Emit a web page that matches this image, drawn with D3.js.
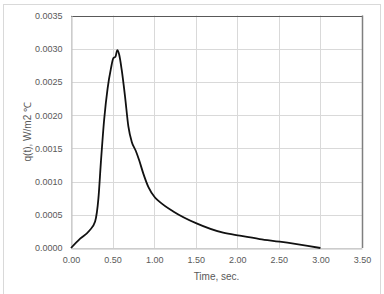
<!DOCTYPE html>
<html>
<head>
<meta charset="utf-8">
<script src="https://cdn.jsdelivr.net/npm/d3@7"></script>
<style>
  body { margin: 0; background: #fff; }
  text { font-family: "Liberation Sans", Arial, sans-serif; fill: #595959; }
</style>
</head>
<body>
<div id="chart"></div>
<script>
// values
var times = [0, 0.11, 0.22, 0.29, 0.33, 0.36, 0.40, 0.44, 0.48, 0.51, 0.535, 0.557, 0.58, 0.61,
             0.65, 0.69, 0.73, 0.78, 0.82, 0.87, 0.93, 1.01, 1.07, 1.23, 1.51, 1.83, 2.03, 2.27, 2.51, 3.0];
var flux = [0, 0.00014, 0.00026, 0.00040, 0.00075, 0.00130, 0.00195, 0.00240, 0.00270, 0.00286, 0.00288, 0.00298, 0.00291, 0.00268,
            0.00228, 0.00183, 0.00160, 0.00146, 0.00132, 0.00112, 0.00092, 0.00076, 0.00069, 0.00055, 0.00037, 0.00023, 0.000185, 0.000135, 0.000095, 0];
var xTicks = [0, 0.5, 1, 1.5, 2, 2.5, 3, 3.5];
var yTicks = [0, 0.0005, 0.001, 0.0015, 0.002, 0.0025, 0.003, 0.0035];

var W = 384, H = 294;
var plotLeft = 71, plotRight = 362, plotTop = 15.5, plotBottom = 248;

var svg = d3.select('#chart').append('svg')
    .attr('width', W)
    .attr('height', H);

// outer chart frame
svg.append('rect')
    .attr('x', 3.5).attr('y', 4.5)
    .attr('width', 377).attr('height', 300)
    .attr('fill', 'none')
    .attr('stroke', '#d9d9d9');

var x = d3.scaleLinear().domain([0, 3.5]).range([plotLeft, plotRight]);
var y = d3.scaleLinear().domain([0, 0.0035]).range([plotBottom, plotTop]);

// gridlines
svg.append('g').selectAll('line')
    .data(xTicks)
    .enter().append('line')
    .attr('x1', function(d) { return Math.round(x(d)) + 0.5; })
    .attr('x2', function(d) { return Math.round(x(d)) + 0.5; })
    .attr('y1', plotTop).attr('y2', plotBottom)
    .attr('stroke', '#d9d9d9');

svg.append('g').selectAll('line')
    .data(yTicks)
    .enter().append('line')
    .attr('x1', plotLeft).attr('x2', plotRight)
    .attr('y1', function(d) { return Math.round(y(d)) + 0.5; })
    .attr('y2', function(d) { return Math.round(y(d)) + 0.5; })
    .attr('stroke', '#d9d9d9');

// plot borders: top and right darker
svg.append('line')
    .attr('x1', plotLeft).attr('x2', plotRight + 0.5)
    .attr('y1', Math.round(plotTop) + 0.5).attr('y2', Math.round(plotTop) + 0.5)
    .attr('stroke', '#595959');
svg.append('line')
    .attr('x1', Math.round(plotRight) + 0.5).attr('x2', Math.round(plotRight) + 0.5)
    .attr('y1', plotTop).attr('y2', plotBottom)
    .attr('stroke', '#7f7f7f').attr('stroke-width', 1.5);

// axes
var xAxis = svg.append('g')
    .attr('transform', 'translate(0,' + (Math.round(plotBottom) + 0.5) + ')')
    .call(d3.axisBottom(x).tickValues(xTicks).tickSize(0).tickPadding(8)
      .tickFormat(d3.format('.2f')));
xAxis.select('.domain').attr('stroke', '#bfbfbf');
xAxis.selectAll('text').style('font-size', '9px').attr('fill', '#595959');

var yAxis = svg.append('g')
    .attr('transform', 'translate(' + (plotLeft + 0.5) + ',0)')
    .call(d3.axisLeft(y).tickValues(yTicks).tickSize(0).tickPadding(9)
      .tickFormat(d3.format('.4f')));
yAxis.select('.domain').attr('stroke', '#bfbfbf');
yAxis.selectAll('text').style('font-size', '9px').attr('fill', '#595959');

// curve
var line = d3.line()
    .x(function(d, i) { return x(times[i]); })
    .y(function(d) { return y(d); })
    .curve(d3.curveMonotoneX);

svg.append('path')
    .datum(flux)
    .attr('d', line)
    .attr('fill', 'none')
    .attr('stroke', '#111')
    .attr('stroke-width', 1.8);

// axis titles
svg.append('text')
    .attr('x', (plotLeft + plotRight) / 2).attr('y', 280)
    .attr('text-anchor', 'middle')
    .style('font-size', '10px')
    .text('Time, sec.');

svg.append('text')
    .attr('transform', 'translate(31,' + ((plotTop + plotBottom) / 2) + ') rotate(-90)')
    .attr('text-anchor', 'middle')
    .style('font-size', '10px')
    .text('q(t), W/m2 ℃');
</script>
</body>
</html>
